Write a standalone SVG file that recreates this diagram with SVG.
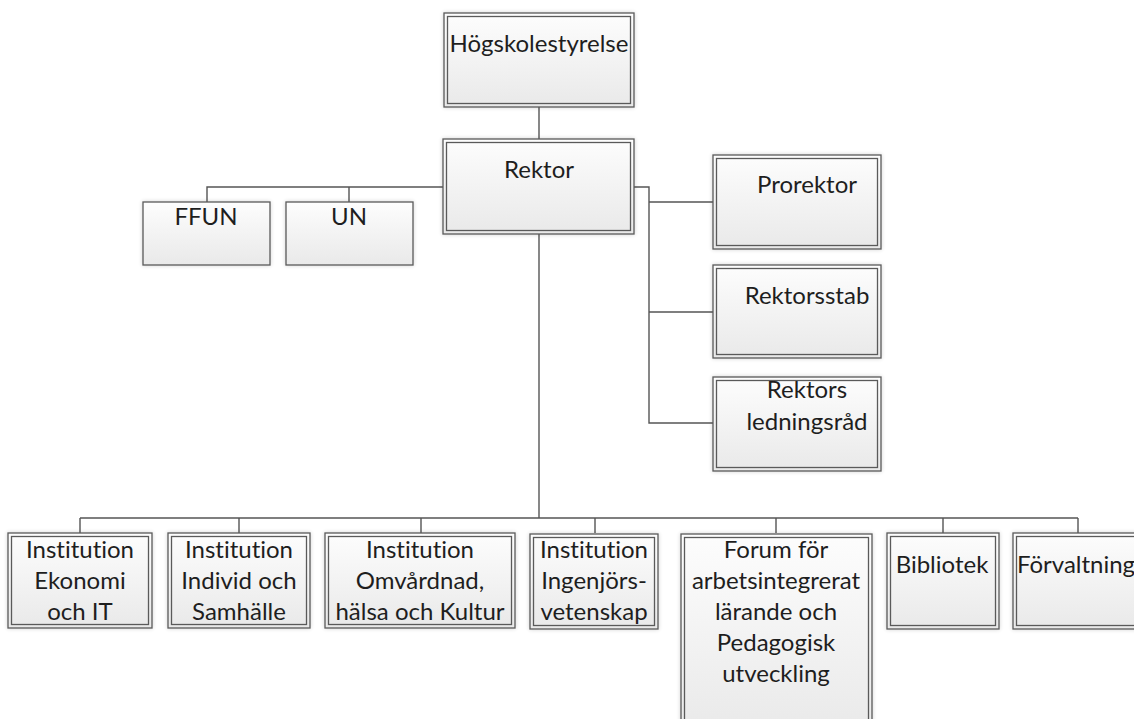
<svg xmlns="http://www.w3.org/2000/svg" width="1134" height="719" viewBox="0 0 1134 719">
<defs>
<linearGradient id="g" x1="0" y1="0" x2="0" y2="1">
<stop offset="0" stop-color="#fdfdfd"/>
<stop offset="1" stop-color="#e9e9e9"/>
</linearGradient>
<filter id="sh" x="-10%" y="-10%" width="120%" height="120%">
<feGaussianBlur in="SourceAlpha" stdDeviation="2"/>
<feComponentTransfer><feFuncA type="linear" slope="0.18"/></feComponentTransfer>
<feMerge><feMergeNode/><feMergeNode in="SourceGraphic"/></feMerge>
</filter>
</defs>
<style>
.o{fill:url(#g);stroke:#5a5a5a;stroke-width:1.3;filter:url(#sh)}
.i{fill:none;stroke:#5a5a5a;stroke-width:1.3}
.t{font-family:Lato,"Liberation Sans",sans-serif;font-size:24px;fill:#1e1e1e;text-anchor:middle;font-variant-ligatures:none;font-feature-settings:"liga" 0}
.c{fill:none;stroke:#555;stroke-width:1.4}
</style>
<rect width="1134" height="719" fill="#fff"/>
<g id="connectors">
<path class="c" d="M539 107V139"/>
<path class="c" d="M443 187H207V202M349 187V202"/>
<path class="c" d="M634 187H649V423H713M649 202H713M649 312H713"/>
<path class="c" d="M539 234V518"/>
<path class="c" d="M80 518H1078M80 518V533M239 518V533M421 518V533M595 518V533M776 518V533M943 518V533M1078 518V533"/>
</g>
<g id="n-hogskolestyrelse">
<rect class="o" x="444" y="13" width="190" height="94"/><rect class="i" x="447.5" y="16.5" width="183" height="87"/>
<text class="t" x="539" y="52">Högskolestyrelse</text>
</g>
<g id="n-rektor">
<rect class="o" x="443" y="139" width="191" height="95"/><rect class="i" x="446.5" y="142.5" width="184" height="88"/>
<text class="t" x="539" y="178">Rektor</text>
</g>
<g id="n-ffun">
<rect class="o" x="143" y="202" width="127" height="63"/>
<text class="t" x="206" y="225">FFUN</text>
</g>
<g id="n-un">
<rect class="o" x="286" y="202" width="127" height="63"/>
<text class="t" x="349" y="225">UN</text>
</g>
<g id="n-prorektor">
<rect class="o" x="713" y="155" width="168" height="94"/><rect class="i" x="716.5" y="158.5" width="161" height="87"/>
<text class="t" x="807" y="193">Prorektor</text>
</g>
<g id="n-rektorsstab">
<rect class="o" x="713" y="265" width="168" height="93"/><rect class="i" x="716.5" y="268.5" width="161" height="86"/>
<text class="t" x="807" y="304">Rektorsstab</text>
</g>
<g id="n-ledningsrad">
<rect class="o" x="713" y="377" width="168" height="94"/><rect class="i" x="716.5" y="380.5" width="161" height="87"/>
<text class="t" x="807" y="398">Rektors</text>
<text class="t" x="807" y="430">ledningsråd</text>
</g>
<g id="n-ekonomi">
<rect class="o" x="8" y="533" width="144" height="95"/><rect class="i" x="11.5" y="536.5" width="137" height="88"/>
<text class="t" x="80" y="558">Institution</text>
<text class="t" x="80" y="589">Ekonomi</text>
<text class="t" x="80" y="620">och IT</text>
</g>
<g id="n-individ">
<rect class="o" x="168" y="533" width="142" height="95"/><rect class="i" x="171.5" y="536.5" width="135" height="88"/>
<text class="t" x="239" y="558">Institution</text>
<text class="t" x="239" y="589">Individ och</text>
<text class="t" x="239" y="620">Samhälle</text>
</g>
<g id="n-omvardnad">
<rect class="o" x="325" y="533" width="190" height="95"/><rect class="i" x="328.5" y="536.5" width="183" height="88"/>
<text class="t" x="420" y="558">Institution</text>
<text class="t" x="420" y="589">Omvårdnad,</text>
<text class="t" x="420" y="620">hälsa och Kultur</text>
</g>
<g id="n-ingenjors">
<rect class="o" x="530" y="534" width="128" height="95"/><rect class="i" x="533.5" y="537.5" width="121" height="88"/>
<text class="t" x="594" y="558">Institution</text>
<text class="t" x="594" y="589">Ingenjörs-</text>
<text class="t" x="594" y="620">vetenskap</text>
</g>
<g id="n-forum">
<rect class="o" x="681" y="534" width="191" height="200"/><rect class="i" x="684.5" y="537.5" width="184" height="193"/>
<text class="t" x="776" y="558">Forum för</text>
<text class="t" x="776" y="589">arbetsintegrerat</text>
<text class="t" x="776" y="620">lärande och</text>
<text class="t" x="776" y="651">Pedagogisk</text>
<text class="t" x="776" y="682">utveckling</text>
</g>
<g id="n-bibliotek">
<rect class="o" x="887" y="533" width="112" height="96"/><rect class="i" x="890.5" y="536.5" width="105" height="89"/>
<text class="t" x="942" y="573">Bibliotek</text>
</g>
<g id="n-forvaltning">
<rect class="o" x="1013" y="533" width="140" height="96"/><rect class="i" x="1016.5" y="536.5" width="133" height="89"/>
<text class="t" x="1076" y="573">Förvaltning</text>
</g>
</svg>
